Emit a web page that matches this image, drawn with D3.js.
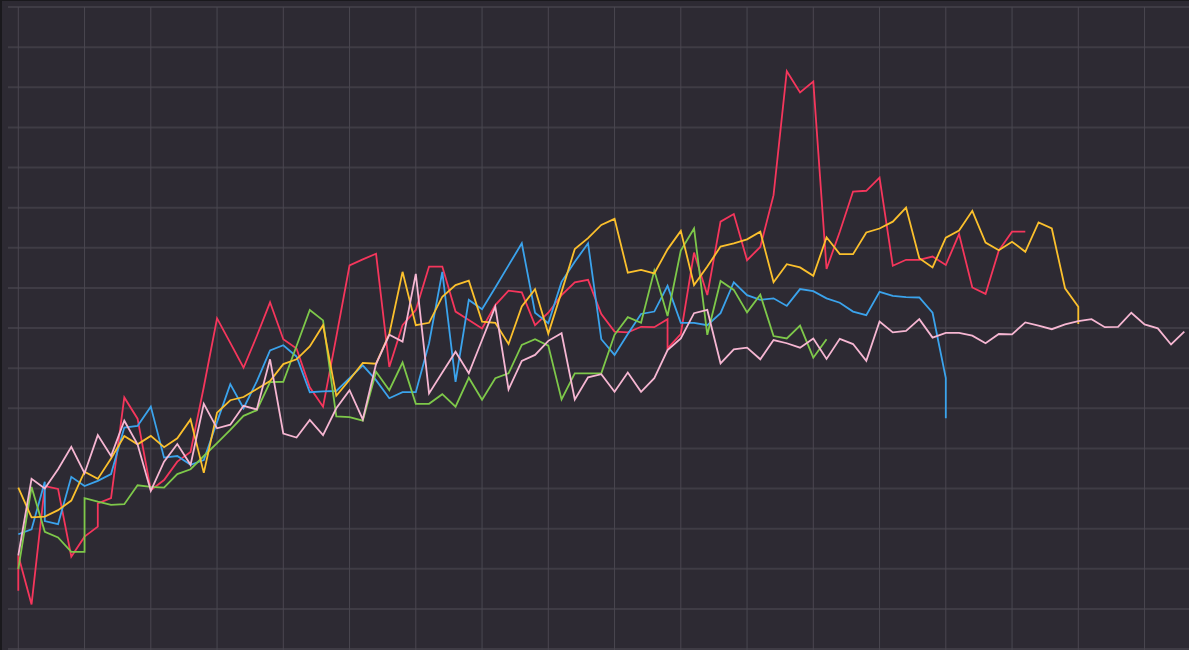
<!DOCTYPE html>
<html>
<head>
<meta charset="utf-8">
<script src="https://cdn.jsdelivr.net/npm/d3@7"></script>
<style>
  html, body { margin: 0; padding: 0; background: #1a191d; }
  svg { display: block; }
</style>
</head>
<body>
<svg id="chart" width="1189" height="650"></svg>
<script>
// Period index shared by every series; a grid line every 5 periods.
const periods = d3.range(0, 89);
const xTicks = d3.range(0, 86, 5);
const yTicks = d3.range(0, 161, 10);

// One value per period. A pair [a, b] means two readings in the same period.
const redValues = [
  [14.5, 23.3], 11.1, 40.6, 39.9, 23.0, 28.0, [30.5, 36.3], 37.6, 62.7, 57.4,
  39.6, 42.1, 46.7, 49.1, 65.3, 82.4, 76.3, 70.1, 78.0, 86.4,
  77.2, 74.9, 65.2, 60.4, 77.8, 95.6, 97.1, 98.5, 70.3, 80.7,
  84.5, 95.3, 95.3, 84.1, 82.0, 79.9, 85.7, 89.3, 88.9, 80.7,
  83.8, 88.2, 91.4, 92.0, 83.5, 79.1, 78.9, 80.3, 80.2, [82.2, 74.9],
  78.5, 98.8, 88.2, 106.5, 108.4, 96.9, 100.2, 113.1, 144.0, 138.7,
  141.4, 94.7, 104.0, 114.0, 114.2, 117.5, 95.5, 97.0, 97.0, 97.8,
  95.7, 103.4, 90.1, 88.5, 99.3, 104.0, 104.0
];
const blueValues = [
  28.6, 29.8, [41.7, 31.9], 31.1, 42.9, 40.6, 41.9, 43.6, 55.2, 55.6,
  60.4, 47.7, 48.1, 45.9, 47.1, 56.6, 66.0, 60.0, 66.7, 74.4,
  75.7, 72.9, 64.0, 64.2, 64.3, 67.5, 70.7, 67.0, 62.5, 64.0,
  64.0, 76.2, 94.0, 66.6, 87.0, 84.7, 90.1, 95.6, 101.1, 83.8,
  81.2, 91.5, 96.5, 101.1, 77.2, 73.3, 78.5, 83.5, 84.1, 90.5,
  81.3, 81.3, 80.7, 83.7, 91.4, 88.2, 87.0, 87.4, 85.5, 89.7,
  89.2, 87.4, 86.3, 84.1, 83.2, 89.0, 88.0, 87.7, 87.6, 83.8,
  [67.5, 57.5]
];
const greenValues = [
  19.9, 40.4, 29.2, 27.8, 24.2, [24.2, 37.6], 36.7, 35.9, 36.1, 40.8,
  40.4, 40.2, 43.6, 44.8, 48.1, 51.3, 54.6, 58.1, 59.5, 66.5,
  66.6, 75.5, 84.5, 81.9, 58.0, 57.8, 56.9, 69.1, 64.5, 71.4,
  61.1, 61.1, 63.5, 60.4, 67.6, 62.1, 67.5, 68.7, 75.8, 77.2,
  75.6, 62.2, 68.7, 68.7, 68.7, 78.3, 82.7, 81.3, 94.3, 83.0,
  99.3, 104.8, 78.3, 91.7, 89.5, 83.9, 88.3, 78.0, 77.4, 80.6,
  72.6, 77.2
];
const yellowValues = [
  40.2, 32.8, 33.0, 34.6, 37.0, 44.2, 42.4, 47.5, 53.1, 51.0,
  53.1, 50.3, 52.5, 57.2, 43.9, 58.9, 62.0, 62.8, 64.8, 66.8,
  71.0, 72.2, 75.4, 80.7, 63.1, 67.1, 71.3, 71.1, 78.5, 94.0,
  80.7, 81.3, 87.8, 90.7, 91.8, 81.6, 81.3, 76.0, 85.4, 89.7,
  78.6, 89.0, 99.7, 102.4, 105.7, 107.2, 93.8, 94.5, 93.6, 99.6,
  104.2, 90.7, 95.3, 100.3, 101.1, 102.1, 104.0, 91.4, 95.9, 95.1,
  93.0, 102.6, 98.4, 98.4, 103.8, 104.8, 106.5, 110.0, 97.4, 95.1,
  102.5, 104.3, 109.2, 101.3, 99.4, 101.5, 99.0, 106.3, 104.8, 89.9,
  [85.3, 81.0]
];
const pinkValues = [
  23.3, 42.4, 40.0, 44.8, 50.4, 43.8, 53.3, 48.1, 56.9, 51.0,
  39.4, 46.7, 51.1, 45.9, 61.1, 55.0, 55.9, 60.6, 59.7, 72.2,
  53.7, 52.7, 57.1, 53.3, 60.0, 64.5, 57.2, 71.0, 78.3, 76.6,
  93.5, 63.7, 68.9, 74.1, 68.7, 77.0, 85.3, 64.7, 71.8, 73.3,
  76.8, 78.7, 62.2, 67.7, 68.5, 64.1, 68.9, 64.1, 67.5, 74.5,
  77.4, 83.7, 84.5, 71.2, 74.7, 75.1, 72.2, 77.0, 76.2, 75.1,
  77.4, 72.3, 77.3, 76.0, 71.8, 81.6, 78.9, 79.3, 82.2, 77.6,
  78.8, 78.8, 78.1, 76.2, 78.5, 78.4, 81.4, 80.6, 79.7, 80.9,
  81.7, 82.2, 80.2, 80.3, 83.8, 80.9, 79.9, 75.9, 79.1
];

const seriesNames = ["red", "blue", "green", "yellow", "pink"];
const seriesColors = ["#f5365c", "#3ba3ec", "#7ec84a", "#fbc02d", "#f6b6d2"];
const seriesValues = [redValues, blueValues, greenValues, yellowValues, pinkValues];

const W = 1189, H = 650;
const svg = d3.select("#chart");

const x = d3.scaleLinear().domain([0, periods[periods.length - 1]]).range([18.3, 1184.3]);
const y = d3.scaleLinear().domain([0, 160]).range([649, 7]);

// Panel
svg.append("rect").attr("x", 2).attr("y", 1).attr("width", W - 2).attr("height", H - 1)
  .attr("fill", "#2d2a33");

// Grid: horizontal rules a touch heavier, vertical rules thin and lighter
const grid = svg.append("g");
grid.selectAll(".h").data(yTicks).join("line")
  .attr("stroke", "#3f3c45").attr("stroke-width", 2)
  .attr("x1", 8).attr("x2", W)
  .attr("y1", d => y(d)).attr("y2", d => y(d));
grid.selectAll(".v").data(xTicks).join("line")
  .attr("stroke", "#4a4750").attr("stroke-width", 1)
  .attr("x1", d => x(d)).attr("x2", d => x(d))
  .attr("y1", 7).attr("y2", H);

// Flatten each series into points, expanding paired readings
function toPoints(values) {
  const pts = [];
  values.forEach((v, i) => {
    if (v == null) return;
    if (Array.isArray(v)) v.forEach(w => pts.push([i, w]));
    else pts.push([i, v]);
  });
  return pts;
}

const line = d3.line().x(d => x(d[0])).y(d => y(d[1]));

svg.append("g").selectAll("path")
  .data(seriesValues.map((vals, k) => ({ name: seriesNames[k], color: seriesColors[k], pts: toPoints(vals) })))
  .join("path")
  .attr("class", d => "series " + d.name)
  .attr("fill", "none")
  .attr("stroke", d => d.color)
  .attr("stroke-width", 1.8)
  .attr("stroke-linejoin", "miter")
  .attr("d", d => line(d.pts));
</script>
</body>
</html>
